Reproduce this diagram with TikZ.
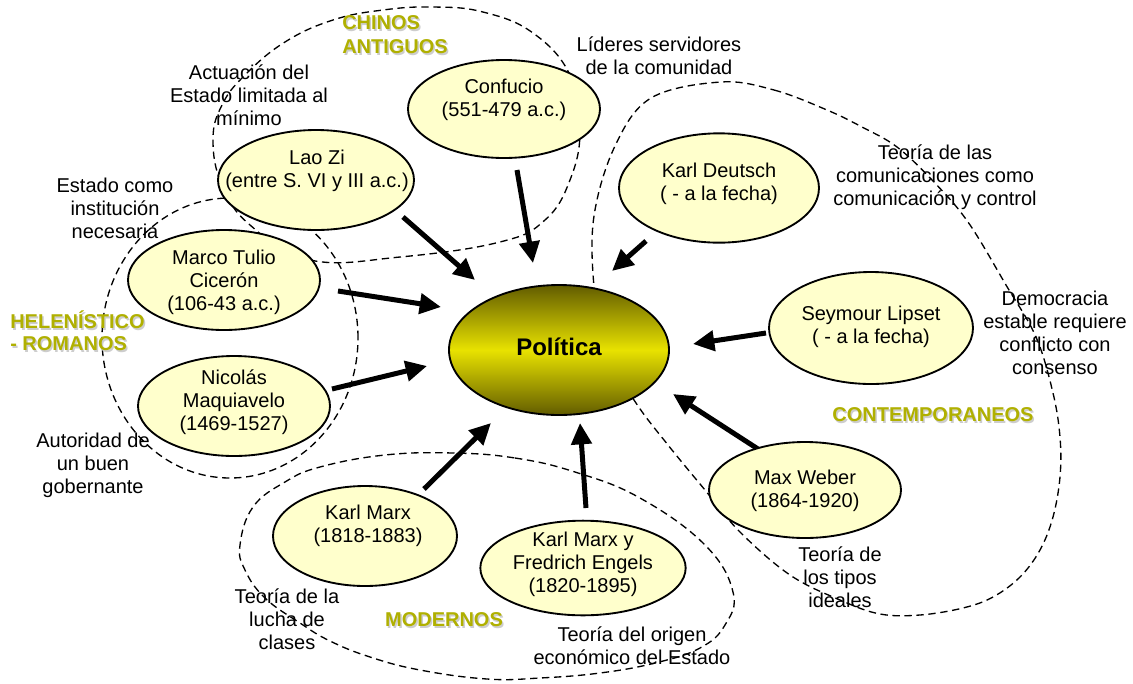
\documentclass[tikz,border=0pt]{standalone}
\usepackage{fontspec}
\setmainfont{Liberation Sans}
\usetikzlibrary{arrows.meta,shapes.geometric,calc}
\definecolor{cream}{RGB}{255,255,204}
\definecolor{eraolive}{RGB}{176,176,0}
\definecolor{erashade}{RGB}{205,205,205}
\definecolor{poldark}{RGB}{98,92,0}
\definecolor{pollight}{RGB}{232,226,0}
\pgfdeclarelayer{back}
\pgfdeclarelayer{paper}
\pgfsetlayers{paper,back,main}

\begin{document}
\begin{tikzpicture}[x=0.75pt,y=-0.75pt,
  every node/.style={font=\fontsize{15}{17.25}\selectfont, inner sep=0pt, align=center},
  person/.style={ellipse, draw=black, line width=1.4pt, fill=cream, inner sep=0pt},
  ptext/.style={text=black},
  note/.style={text=black},
  era/.style={font=\fontsize{15}{18}\selectfont\bfseries, text=eraolive, align=left},
  erashadow/.style={font=\fontsize{15}{18}\selectfont\bfseries, text=erashade, align=left},
  group/.style={draw=black, line width=1pt, dash pattern=on 5.5pt off 3.5pt},
  arr/.style={line width=3.75pt, -{Triangle[length=16pt,width=15pt]}}
]
\begin{pgfonlayer}{paper}
\fill[white] (0,0) rectangle (1133,683);
\end{pgfonlayer}
\useasboundingbox (0,0) rectangle (1133,683);

% ---------- central concept ----------
\node[ellipse, draw=black, line width=1.4pt, minimum width=165pt, minimum height=97.5pt,
      top color=poldark, bottom color=poldark, middle color=pollight] (pol) at (559,350) {};
\node[font=\fontsize{18}{20}\selectfont\bfseries] (polT) at (559,347) {Política};

% ---------- thinkers ----------
\node[person, minimum width=144pt, minimum height=73.5pt] (conf) at (504,109) {};
\node[ptext] (confT) at (504,100) {Confucio\\(551-479 a.c.)};

\node[person, minimum width=147pt, minimum height=75pt] (lao) at (316,180) {};
\node[ptext] (laoT) at (317,171) {Lao Zi\\(entre S. VI y III a.c.)};

\node[person, minimum width=144pt, minimum height=75pt] (cic) at (224,280) {};
\node[ptext] (cicT) at (224,282) {Marco Tulio\\Cicerón\\(106-43 a.c.)};

\node[person, minimum width=144pt, minimum height=75pt] (maq) at (234,406) {};
\node[ptext] (maqT) at (234,402) {Nicolás\\Maquiavelo\\(1469-1527)};

\node[person, minimum width=138pt, minimum height=75pt] (marx) at (365,536) {};
\node[ptext] (marxT) at (368,526) {Karl Marx\\(1818-1883)};

\node[person, minimum width=154pt, minimum height=71pt] (me) at (583,568) {};
\node[ptext] (meT) at (583,564) {Karl Marx y\\Fredrich Engels\\(1820-1895)};

\node[person, minimum width=150pt, minimum height=82pt] (deu) at (719,188) {};
\node[ptext] (deuT) at (719,184) {Karl Deutsch\\( - a la fecha)};

\node[person, minimum width=153pt, minimum height=84pt] (lip) at (871,328) {};
\node[ptext] (lipT) at (871,327) {Seymour Lipset\\( - a la fecha)};

\node[person, minimum width=144pt, minimum height=72pt] (web) at (805,490) {};
\node[ptext] (webT) at (805,491) {Max Weber\\(1864-1920)};

% ---------- annotations ----------
\node[note] (nAct) at (249,95) {Actuación del\\Estado limitada al\\mínimo};
\node[note] (nLid) at (659,56) {Líderes servidores\\de la comunidad};
\node[note] (nEst) at (115,208) {Estado como\\institución\\necesaria};
\node[note] (nAut) at (93,465) {Autoridad de\\un buen\\gobernante};
\node[note] (nCom) at (935,177) {Teoría de las\\comunicaciones como\\comunicación y control};
\node[note] (nDem) at (1055,333) {Democracia\\estable requiere\\conflicto con\\consenso};
\node[note] (nTip) at (840,577) {Teoría de\\los tipos\\ideales};
\node[note] (nLuc) at (287,619) {Teoría de la\\lucha de\\clases};
\node[note] (nOri) at (632,646) {Teoría del origen\\económico del Estado};

% ---------- era labels ----------
\node[erashadow, anchor=west] (chinS) at (343.5,36.5) {CHINOS\\ANTIGUOS};
\node[era, anchor=west] (chin) at (342,35) {CHINOS\\ANTIGUOS};
\node[erashadow, anchor=west, font=\fontsize{15}{16.5}\selectfont\bfseries] (helS) at (11.5,332.5) {HELENÍSTICO\\- ROMANOS};
\node[era, anchor=west, font=\fontsize{15}{16.5}\selectfont\bfseries] (hel) at (10,331) {HELENÍSTICO\\- ROMANOS};
\node[erashadow] (modS) at (445.5,621.5) {MODERNOS};
\node[era] (mod) at (444,620) {MODERNOS};
\node[erashadow] (conS) at (934.5,416.5) {CONTEMPORANEOS};
\node[era] (con) at (933,415) {CONTEMPORANEOS};

\begin{pgfonlayer}{back}
% era boundaries
\draw[group] plot[smooth cycle, tension=0.7] coordinates {
  (213,140) (222,185) (250,225) (310,260) (400,257) (500,242) (545,220)
  (570,180) (580,130) (570,75) (533,33) (483,12) (433,7) (383,10)
  (333,20) (285,42) (245,75) (222,105)};
\draw[group] (230,338) ellipse [x radius=96pt, y radius=105pt];
\draw[group] plot[smooth cycle, tension=0.7] coordinates {
  (453,453) (515,458) (575,472) (640,498) (705,545) (733,592) (725,625)
  (700,648) (655,663) (600,673) (540,678) (487,679) (420,670) (370,657)
  (330,641) (300,623) (265,598) (245,570) (240,545) (253,507) (285,482)
  (320,467) (385,455)};
\draw[group] plot[smooth cycle, tension=0.6] coordinates {
  (721,82) (774,90) (827,110) (862,127) (897,147) (933,181) (968,222)
  (1006,285) (1036,337) (1053,393) (1060,437) (1060,477) (1053,517)
  (1040,550) (1020,577) (993,597) (963,608) (920,615) (880,614) (840,600)
  (790,575) (740,532) (705,490) (668,445) (636,403) (605,350) (594,287)
  (594,216) (615,146) (651,98)};

% arrows into the central concept
\draw[arr] ([shift={(87,37)}]lao.center) -- ([shift={(-84,-70)}]pol.center);
\draw[arr] ([shift={(13,61)}]conf.center) -- ([shift={(-26,-87)}]pol.center);
\draw[arr] ([shift={(-73,53)}]deu.center) -- ([shift={(53,-79)}]pol.center);
\draw[arr] ([shift={(114,11)}]cic.center) -- ([shift={(-118,-43)}]pol.center);
\draw[arr] ([shift={(98,-17)}]maq.center) -- ([shift={(-132,16)}]pol.center);
\draw[arr] ([shift={(-105,5)}]lip.center) -- ([shift={(134,-6)}]pol.center);
\draw[arr] ([shift={(-47,-41)}]web.center) -- ([shift={(114,44)}]pol.center);
\draw[arr] ([shift={(59,-47)}]marx.center) -- ([shift={(-68,73)}]pol.center);
\draw[arr] ([shift={(3,-60)}]me.center) -- ([shift={(21,73)}]pol.center);
\end{pgfonlayer}
\end{tikzpicture}
\end{document}
